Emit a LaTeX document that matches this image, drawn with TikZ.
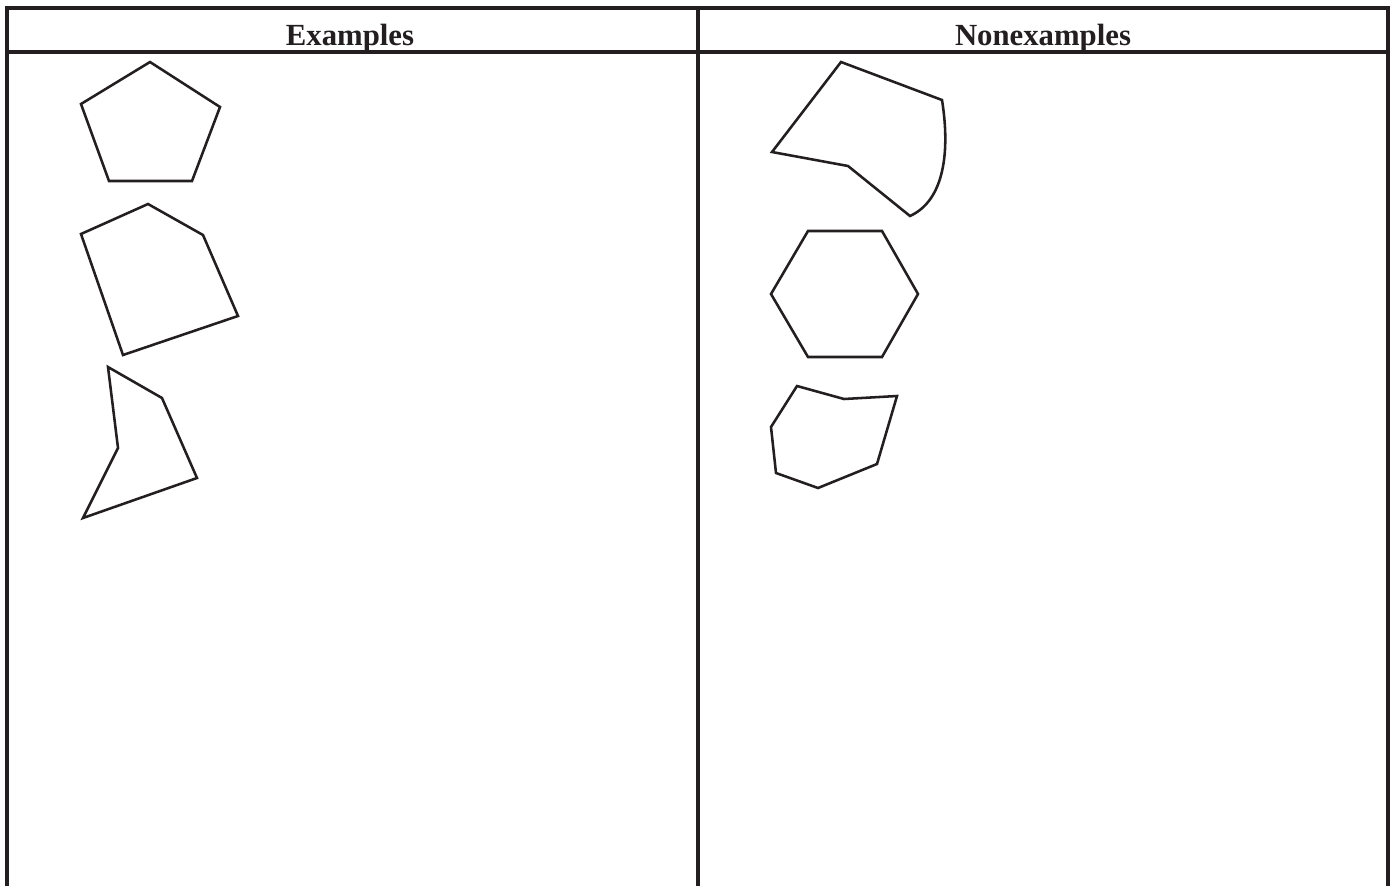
\documentclass[tikz,border=0pt]{standalone}
\usepackage{fontspec}
\setmainfont{Liberation Serif}
\usepackage{tikz}
\usetikzlibrary{positioning}
\definecolor{ink}{RGB}{35,31,32}
\tikzset{
  rule/.style={draw=ink,line width=2.1pt},
  poly/.style={draw=ink,line width=1.45pt,line join=miter},
  head/.style={font=\fontsize{17.5}{20}\selectfont\bfseries,text=ink,inner sep=0pt},
}

\begin{document}
\begin{tikzpicture}[x=0.02cm,y=-0.02cm]
\useasboundingbox (0,0) rectangle (1393,886);
% table frame, open at the bottom
\draw[rule] (7,886) -- (7,8) -- (1388,8) -- (1388,886);
\draw[rule] (7,52) -- (1388,52);
\draw[rule] (698,8) -- (698,886);
\node[head,anchor=base] (ex) at (350,45) {Examples};
\node[head,anchor=base] (nonex) at (1043,45) {Nonexamples};
% examples
\draw[poly] (150,62) -- (220,107) -- (192,181) -- (109,181) -- (81,104) -- cycle;
\draw[poly] (148,204) -- (203,235) -- (238,316) -- (123,355) -- (81,234) -- cycle;
\draw[poly] (108,367) -- (162,398) -- (197,478) -- (83,518) -- (118,448) -- cycle;
% nonexamples
\draw[poly] (841,62) -- (942,100) .. controls (950,150) and (945,200) .. (910,216)
  -- (848,166) -- (772,152) -- cycle;
\draw[poly] (808,231) -- (882,231) -- (918,294) -- (882,357) -- (808,357) -- (771,294) -- cycle;
\draw[poly] (797,386) -- (844,399) -- (897,396) -- (877,464) -- (818,488) -- (776,473)
  -- (771,427) -- cycle;
\end{tikzpicture}
\end{document}
